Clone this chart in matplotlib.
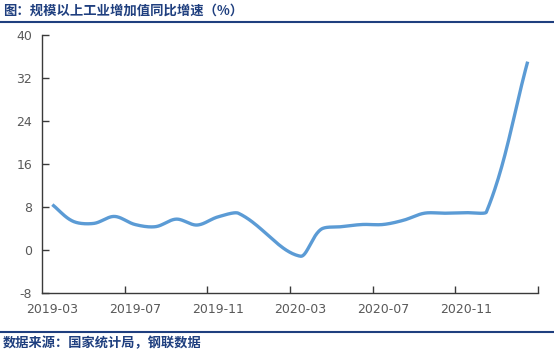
import numpy as np
import matplotlib
matplotlib.use("Agg")
import matplotlib.pyplot as plt
from matplotlib.lines import Line2D

# ---- data ----
months = ["2019-03", "2019-04", "2019-05", "2019-06", "2019-07", "2019-08",
          "2019-09", "2019-10", "2019-11", "2019-12", "2020-01", "2020-02",
          "2020-03", "2020-04", "2020-05", "2020-06", "2020-07", "2020-08",
          "2020-09", "2020-10", "2020-11", "2020-12", "2021-01", "2021-02"]
growth = [8.5, 5.4, 5.0, 6.3, 4.8, 4.4, 5.8, 4.7, 6.2, 6.9, None, None,
          -1.1, 3.9, 4.4, 4.8, 4.8, 5.6, 6.9, 6.9, 7.0, 7.1, None, 35.1]
label_months = ["2019-03", "2019-07", "2019-11", "2020-03", "2020-07", "2020-11"]
yticks = [-8, 0, 8, 16, 24, 32, 40]

title = "图：规模以上工业增加值同比增速（%）"
source = "数据来源：国家统计局，钢联数据"

NAVY = "#1F3F7F"
LINE = "#5B9BD5"
AX = "#3A3A3A"
TXT = "#595959"

fig = plt.figure(figsize=(5.54, 3.53), dpi=100)
fig.patch.set_facecolor("white")

ax = fig.add_axes([42 / 554, 1 - 293.3 / 353, 496 / 554, (293.3 - 35.3) / 353])
n = len(months)
ax.set_xlim(-0.5, n - 0.5)
ax.set_ylim(yticks[0], yticks[-1])

for s in ("top", "right"):
    ax.spines[s].set_visible(False)
for s in ("left", "bottom"):
    ax.spines[s].set_color(AX)
    ax.spines[s].set_linewidth(1.0)

# x ticks: marks at category boundaries every 4, labels centred on categories
xpos = np.arange(n)
ax.set_xticks(np.arange(3.5, n, 4))
ax.set_xticklabels([])
lab_pos = [months.index(m) for m in label_months]
ax.set_xticks(lab_pos, minor=True)
ax.set_xticklabels(label_months, minor=True)
ax.tick_params(axis="x", which="major", direction="in", length=5, width=1, color=AX)
ax.tick_params(axis="x", which="minor", length=0, pad=7, labelsize=9, labelcolor=TXT)
ax.set_yticks(yticks)
ax.set_yticklabels([str(v) for v in yticks])
ax.tick_params(axis="y", direction="in", length=5, width=1, color=AX, pad=7,
               labelsize=9, labelcolor=TXT)

# smoothed line (Excel-like bezier) through valid points
vx = np.array([x for x, v in zip(xpos, growth) if v is not None], float)
vy = np.array([v for v in growth if v is not None], float)
pts = ax.transData.transform(np.column_stack([vx, vy]))
curve = []
N = len(pts)
sc = 1 / 3
pw = 1.5
for i in range(N - 1):
    p0 = pts[i - 1] if i > 0 else pts[i]
    p1 = pts[i]
    p2 = pts[i + 1]
    p3 = pts[i + 2] if i + 2 < N else pts[i + 1]
    d01 = np.linalg.norm(p1 - p0) ** pw
    d12 = np.linalg.norm(p2 - p1) ** pw
    d23 = np.linalg.norm(p3 - p2) ** pw
    c1 = p1 + (p2 - p0) * sc * d12 / (d01 + d12)
    c2 = p2 - (p3 - p1) * sc * d12 / (d12 + d23)
    t = np.linspace(0, 1, 40)[:, None]
    b = ((1 - t) ** 3) * p1 + 3 * ((1 - t) ** 2) * t * c1 + 3 * (1 - t) * t ** 2 * c2 + t ** 3 * p2
    curve.append(b if i == 0 else b[1:])
curve = np.vstack(curve)
cd = ax.transData.inverted().transform(curve)
ax.plot(cd[:, 0], cd[:, 1], color=LINE, lw=2.4, solid_capstyle="butt")

# title & source with rules
cjk = ["Noto Sans CJK SC", "DejaVu Sans"]
fig.text(3 / 554, 1 - 11 / 353, title, fontsize=9.6, fontweight="bold", color=NAVY,
         family=cjk, va="center", ha="left")
fig.add_artist(Line2D([0, 1], [1 - 22 / 353] * 2, transform=fig.transFigure,
                      color=NAVY, lw=1.5))
fig.add_artist(Line2D([0, 1], [1 - 331.5 / 353] * 2, transform=fig.transFigure,
                      color=NAVY, lw=1.5))
fig.text(3 / 554, 1 - 343 / 353, source, fontsize=9.5, fontweight="bold", color=NAVY,
         family=cjk, va="center", ha="left")

fig.savefig("out.png", dpi=100)
